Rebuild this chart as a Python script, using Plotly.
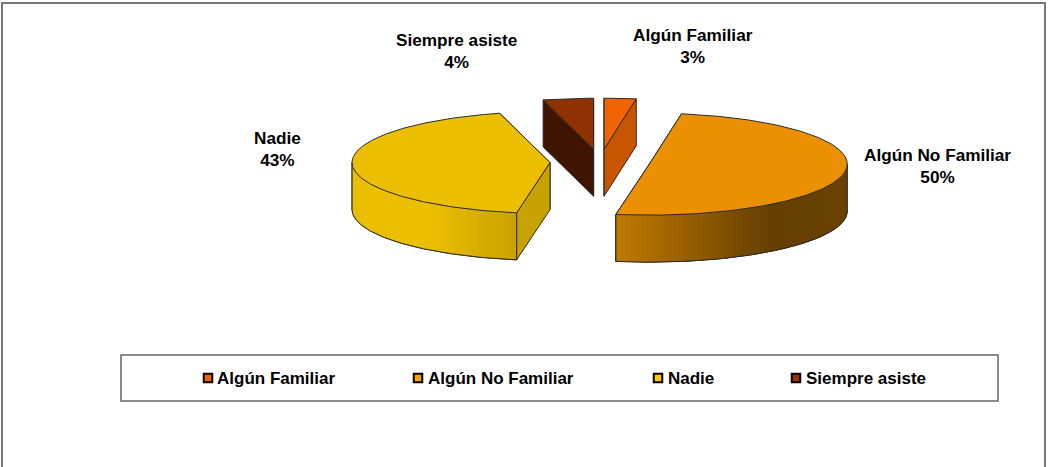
import numpy as np
import plotly.graph_objects as go

categories = ["Algún Familiar", "Algún No Familiar", "Nadie", "Siempre asiste"]
shares = [2.6, 50.1, 43.2, 4.1]

top_colors = ["#F06400", "#EB9000", "#EBBF00", "#8F3100"]
cut_colors = ["#C85500", "#C07A00", "#C8A200", "#3F1500"]
legend_colors = ["#F06400", "#FFA000", "#FFC800", "#993300"]
edge_color = "#2b2b2b"

# gradient stops of the rim, (x position, colour)
rim_stops = {
    1: [(616, (192, 122, 0)), (770, (102, 63, 0)), (847, (107, 66, 0))],
    2: [(352, (235, 191, 0)), (430, (235, 191, 0)), (517, (200, 162, 0))],
}

cx, cy = 600, 162
rx, ry = 198, 51
depth = 47
explode = 50
start_angle = 90

label_pos = [(693, 46), (937, 166), (277, 149), (456, 51)]
legend_marker_x = [208, 418, 658, 796]
legend_text_x = [216, 427, 667, 805]
legend_y = 378
label_size = 17.2
legend_size = 17


def rim_color(i, x):
    stops = rim_stops[i]
    xs = [s[0] for s in stops]
    rgb = [np.interp(x, xs, [s[1][c] for s in stops]) for c in range(3)]
    return "rgb(%d,%d,%d)" % tuple(rgb)


def poly(fig, xs, ys, fill, line=None):
    fig.add_trace(go.Scatter(
        x=list(xs), y=list(ys), mode="lines", fill="toself", fillcolor=fill,
        line=dict(color=line or fill, width=1 if line else 0),
        hoverinfo="skip", showlegend=False))


fig = go.Figure()

# rectangles first so they stay under everything else
fig.add_shape(type="rect", x0=2, y0=3, x1=1045, y1=480, line=dict(color="#777777", width=2))
fig.add_shape(type="rect", x0=121, y0=355, x1=998, y1=401, line=dict(color="#666666", width=1.5))

angle = start_angle
slices = []
for share in shares:
    sweep = share / sum(shares) * 360
    slices.append((angle, angle - sweep))
    angle -= sweep

# back slices first, the big ones go in front
for i in [3, 0, 2, 1]:
    a0, a1 = slices[i]
    mid = np.radians((a0 + a1) / 2)
    ox = cx + explode * np.cos(mid)
    oy = cy - explode * ry / rx * np.sin(mid)

    t = np.radians(np.linspace(a0, a1, 240))
    ax = ox + rx * np.cos(t)
    ay = oy - ry * np.sin(t)

    # cut faces, the one further back goes first
    for k in sorted([0, -1], key=lambda n: ay[n]):
        poly(fig, [ox, ax[k], ax[k], ox, ox], [oy, ay[k], ay[k] + depth, oy + depth, oy],
             cut_colors[i], edge_color)

    # rim, only the part facing the viewer, in thin strips for the gradient
    front = np.where(np.sin(t) < 0)[0]
    if len(front) > 1:
        fx, fy = ax[front], ay[front]
        poly(fig, list(fx) + list(fx[::-1]), list(fy) + list(fy[::-1] + depth),
             rim_color(i, fx.mean()), edge_color)
        for n in range(0, len(fx) - 2, 2):
            sx = fx[n:n + 4]
            sy = fy[n:n + 4]
            poly(fig, list(sx) + list(sx[::-1]), list(sy) + list(sy[::-1] + depth),
                 rim_color(i, sx.mean()))
        fig.add_trace(go.Scatter(x=fx, y=fy + depth, mode="lines",
                                 line=dict(color=edge_color, width=1),
                                 hoverinfo="skip", showlegend=False))
        for e in [0, -1]:
            fig.add_trace(go.Scatter(x=[fx[e], fx[e]], y=[fy[e], fy[e] + depth], mode="lines",
                                     line=dict(color=edge_color, width=1),
                                     hoverinfo="skip", showlegend=False))

    # top face
    poly(fig, [ox] + list(ax) + [ox], [oy] + list(ay) + [oy], top_colors[i], edge_color)

    fig.add_annotation(x=label_pos[i][0], y=label_pos[i][1], xref="x", yref="y",
                       text=f"<b>{categories[i]}</b><br><b>{shares[i]:.0f}%</b>", showarrow=False,
                       font=dict(family="Liberation Sans", size=label_size, color="black"))

# legend drawn by hand, the entries are spaced wider than plotly's own
for i, name in enumerate(categories):
    fig.add_trace(go.Scatter(
        x=[legend_marker_x[i]], y=[legend_y], mode="markers",
        marker=dict(symbol="square", size=8.5, color=legend_colors[i], line=dict(color="black", width=2)),
        hoverinfo="skip", showlegend=False))
    fig.add_annotation(x=legend_text_x[i], y=legend_y, xref="x", yref="y", xanchor="left",
                       text=f"<b>{name}</b>", showarrow=False, borderpad=0,
                       font=dict(family="Liberation Sans", size=legend_size, color="black"))

fig.update_layout(
    width=1057, height=467,
    margin=dict(l=0, r=0, t=0, b=0),
    paper_bgcolor="white", plot_bgcolor="white",
    showlegend=False,
    xaxis=dict(range=[0, 1057], visible=False, fixedrange=True),
    yaxis=dict(range=[467, 0], visible=False, fixedrange=True),
)

fig.write_html("out.html", config=dict(displayModeBar=False),
               post_script="document.body.style.margin='0';document.body.style.overflow='hidden';")
